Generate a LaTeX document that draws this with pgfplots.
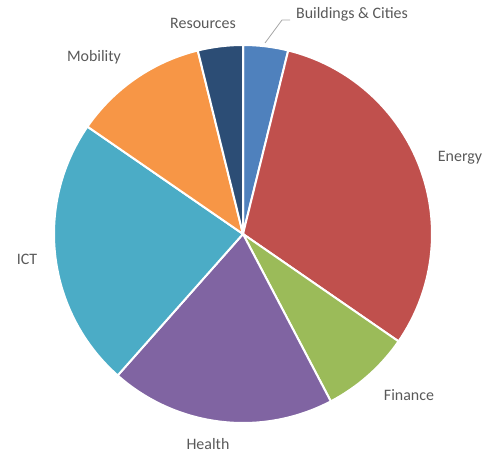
\documentclass[border=0pt]{standalone}
\usepackage{pgfplots}
\pgfplotsset{compat=1.18}
\usepackage{pgfplotstable}
\usepackage{fontspec}
\setmainfont{Carlito}
\definecolor{cBuild}{HTML}{4F81BD}
\definecolor{cEnergy}{HTML}{C0504D}
\definecolor{cFin}{HTML}{9BBB59}
\definecolor{cHealth}{HTML}{8064A2}
\definecolor{cICT}{HTML}{4BACC6}
\definecolor{cMob}{HTML}{F79646}
\definecolor{cRes}{HTML}{2C4D75}
\definecolor{labelgray}{HTML}{595959}
\pgfplotstableread{
name value color
Buildings 1 cBuild
Energy 8 cEnergy
Finance 2 cFin
Health 5 cHealth
ICT 6 cICT
Mobility 3 cMob
Resources 1 cRes
}\piedata
\begin{document}
\begin{tikzpicture}
\begin{axis}[scale only axis, width=491bp, height=453bp,
  xmin=0, xmax=491, ymin=0, ymax=453, hide axis, clip=false]
\addplot[draw=none, forget plot] coordinates {(0,0) (491,453)};
\path (axis cs:0,0) rectangle (axis cs:491,453);
\pgfplotsextra{
  \pgfplotstablegetrowsof{\piedata}
  \pgfmathtruncatemacro\nrows{\pgfplotsretval-1}
  \gdef\pietotal{0}
  \foreach \i in {0,...,\nrows}{
    \pgfplotstablegetelem{\i}{value}\of{\piedata}
    \pgfmathsetmacro\tmp{\pietotal+\pgfplotsretval}
    \xdef\pietotal{\tmp}
  }
  \gdef\startang{90}
  \foreach \i in {0,...,\nrows}{
    \pgfplotstablegetelem{\i}{value}\of{\piedata}\let\val\pgfplotsretval
    \pgfplotstablegetelem{\i}{color}\of{\piedata}\let\col\pgfplotsretval
    \pgfmathsetmacro\endang{\startang-\val*360/\pietotal}
    \fill[fill=\col, draw=white, line width=2bp, line join=round]
      (axis cs:243,219) -- ++(\startang:189bp)
      arc[start angle=\startang, end angle=\endang, radius=189bp] -- cycle;
    \xdef\startang{\endang}
  }
}
\tikzset{lab/.style={text=labelgray, font=\fontsize{16}{19}\selectfont, inner sep=0pt}}
\node[lab] at (axis cs:203,430) {Resources};
\node[lab] at (axis cs:352,439) {Buildings \& Cities};
\node[lab] at (axis cs:460,295) {Energy};
\node[lab] at (axis cs:409,58) {Finance};
\node[lab] at (axis cs:208,9) {Health};
\node[lab] at (axis cs:27,194) {ICT};
\node[lab] at (axis cs:94,396) {Mobility};
\draw[gray!70, line width=0.8bp] (axis cs:265,410) -- (axis cs:282,433) -- (axis cs:290,433);
\end{axis}
\end{tikzpicture}
\end{document}
